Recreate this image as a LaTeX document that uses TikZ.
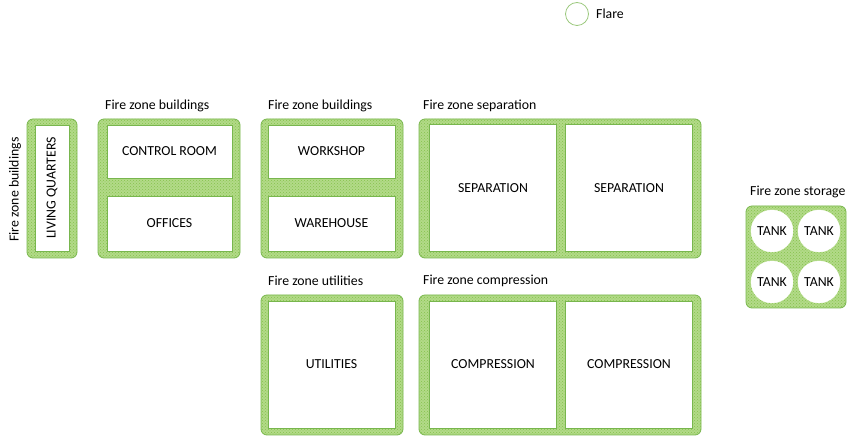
\documentclass[tikz,border=0pt]{standalone}
\usepackage{fontspec}
\setmainfont{Carlito}
\usetikzlibrary{patterns}
\definecolor{zoneedge}{HTML}{78B64E}
\definecolor{zonefill}{HTML}{B2DA88}
\definecolor{zonedot}{HTML}{86C24C}
\definecolor{flareedge}{HTML}{9CC97E}
\tikzset{
  every node/.style={font=\fontsize{13.8}{16}\selectfont, text=black},
  zone/.style={draw=zoneedge, line width=0.8pt, rounded corners=6pt, fill=zonefill,
    postaction={pattern=crosshatch dots, pattern color=zonedot}, minimum width=#1},
  zh/.style={minimum height=#1},
  unit/.style={draw=zoneedge, line width=0.8pt, fill=white, inner sep=0pt},
  tank/.style={circle, fill=white, draw=white, minimum size=42pt, inner sep=0pt},
  zlabel/.style={anchor=west, inner sep=0pt},
}
\begin{document}
\begin{tikzpicture}[x=1pt,y=-1pt]
\useasboundingbox (0,0) rectangle (852,443);
% zones
\node[zone=50pt, zh=139pt] (zlq) at (52,188.5) {};
\node[zone=142pt, zh=139pt] (zb1) at (169,188.5) {};
\node[zone=142pt, zh=139pt] (zb2) at (332,188.5) {};
\node[zone=282pt, zh=139pt] (zsep) at (560,188.5) {};
\node[zone=142pt, zh=140pt] (zut) at (332,365) {};
\node[zone=282pt, zh=140pt] (zcomp) at (560,365) {};
\node[zone=100pt, zh=102pt] (zst) at (796,257) {};
% units
\node[unit, minimum width=34pt, minimum height=126pt] (lq) at (52,188) {};
\node[rotate=90] (lqt) at (lq.center) {LIVING QUARTERS};
\node[unit, minimum width=125pt, minimum height=53pt] (cr) at (169.5,151.5) {CONTROL ROOM};
\node[unit, minimum width=125pt, minimum height=55pt] (off) at (169.5,223.5) {OFFICES};
\node[unit, minimum width=127pt, minimum height=53pt] (ws) at (331.5,151.5) {WORKSHOP};
\node[unit, minimum width=127pt, minimum height=55pt] (wh) at (331.5,223.5) {WAREHOUSE};
\node[unit, minimum width=127pt, minimum height=127pt] (sep1) at (493,188) {SEPARATION};
\node[unit, minimum width=127pt, minimum height=127pt] (sep2) at (629,188) {SEPARATION};
\node[unit, minimum width=127pt, minimum height=127pt] (ut) at (331.5,364.5) {UTILITIES};
\node[unit, minimum width=127pt, minimum height=127pt] (comp1) at (493,364.5) {COMPRESSION};
\node[unit, minimum width=127pt, minimum height=127pt] (comp2) at (629,364.5) {COMPRESSION};
% tanks
\node[tank] (t1) at (772,231) {TANK};
\node[tank] (t2) at (819,231) {TANK};
\node[tank] (t3) at (772,282) {TANK};
\node[tank] (t4) at (819,282) {TANK};
% flare
\node[circle, draw=flareedge, line width=0.8pt, fill=white, minimum size=23pt, inner sep=0pt] (flare) at (577,14) {};
\node[zlabel] (flaret) at (596,14) {Flare};
% labels
\node[rotate=90] (l0) at (15,189.5) {Fire zone buildings};
\node[zlabel] (l1) at (105,106) {Fire zone buildings};
\node[zlabel] (l2) at (268,106) {Fire zone buildings};
\node[zlabel] (l3) at (423,106) {Fire zone separation};
\node[zlabel] (l4) at (268,281) {Fire zone utilities};
\node[zlabel] (l5) at (423,281) {Fire zone compression};
\node[zlabel] (l6) at (750,192) {Fire zone storage};
\end{tikzpicture}
\end{document}
